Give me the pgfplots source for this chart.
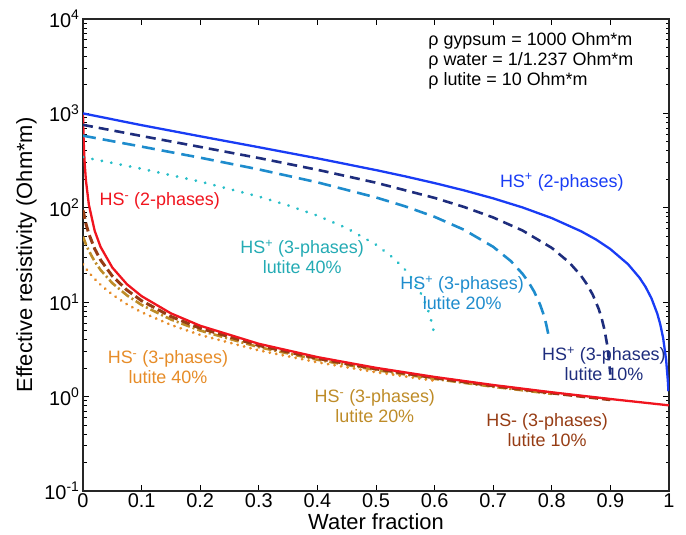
\documentclass[border=0pt]{standalone}
\usepackage{pgfplots}
\pgfplotsset{compat=1.18}
\usepackage{fontspec}
\setmainfont{Liberation Sans}

\definecolor{hsblue}{RGB}{25,60,245}
\definecolor{hsnavy}{RGB}{30,45,125}
\definecolor{hsmid}{RGB}{30,140,205}
\definecolor{hscyan}{RGB}{40,190,200}
\definecolor{hsred}{RGB}{240,20,30}
\definecolor{hsbrown}{RGB}{150,60,20}
\definecolor{hsgold}{RGB}{190,140,40}
\definecolor{hsorange}{RGB}{230,140,40}

\begin{document}
\begin{tikzpicture}
\begin{axis}[
    scale only axis,
    width=586bp, height=472bp,
    xmin=0, xmax=1,
    ymode=log, ymin=0.1, ymax=10000,
    xtick={0,0.1,0.2,0.3,0.4,0.5,0.6,0.7,0.8,0.9,1},
    xticklabels={0,0.1,0.2,0.3,0.4,0.5,0.6,0.7,0.8,0.9,1},
    ytick={0.1,1,10,100,1000,10000},
    yticklabels={10\textsuperscript{-1},10\textsuperscript{0},10\textsuperscript{1},10\textsuperscript{2},10\textsuperscript{3},10\textsuperscript{4}},
    minor ytick={0.2,0.3,0.4,0.5,0.6,0.7,0.8,0.9,2,3,4,5,6,7,8,9,20,30,40,50,60,70,80,90,200,300,400,500,600,700,800,900,2000,3000,4000,5000,6000,7000,8000,9000},
    major tick length=6bp, minor tick length=3.5bp,
    tick style={black, line width=1bp},
    axis line style={black!85, line width=1.6bp},
    ticklabel style={font=\fontsize{20}{20}\selectfont},
    xticklabel style={yshift=1bp},
    label style={font=\fontsize{22}{22}\selectfont},
    xlabel={Water fraction},
    ylabel={Effective resistivity (Ohm*m)},
    xlabel style={yshift=1bp},
    ylabel style={yshift=1bp},
    clip=true,
]

% HS- 3 phases (lower resistivity bound)
\addplot[color=hsorange, line width=3bp, line cap=round, dash pattern=on 0.1bp off 6.5bp] coordinates {
    (0,25.2)(0.005,22.8)(0.01,20.7)(0.02,17.6)(0.03,15.3)(0.05,12.06)(0.075,9.51)(0.1,7.83)(0.15,5.75)(0.2,4.503)(0.3,3.090)(0.4,2.309)(0.5,1.814)(0.6,1.471)
};
\addplot[color=hsgold, line width=2.6bp, dash pattern=on 9bp off 3bp on 2bp off 3bp] coordinates {
    (0,49.5)(0.005,41.0)(0.01,35.0)(0.02,27.0)(0.03,21.95)(0.05,15.93)(0.075,11.82)(0.1,9.36)(0.15,6.56)(0.2,5.008)(0.3,3.339)(0.4,2.457)(0.5,1.911)(0.6,1.540)(0.7,1.272)(0.8,1.069)
};
\addplot[color=hsbrown, line width=3bp, dash pattern=on 9bp off 4bp] coordinates {
    (0,94.7)(0.005,67.9)(0.01,52.9)(0.02,36.7)(0.03,28.0)(0.05,18.94)(0.075,13.43)(0.1,10.36)(0.15,7.06)(0.2,5.30)(0.3,3.478)(0.4,2.537)(0.5,1.964)(0.6,1.577)(0.7,1.299)(0.8,1.0896)(0.9,0.926)
};

% HS- 2 phases
\addplot[color=hsred, line width=2.3bp] coordinates {
    (0,1000)(0.001,548)(0.002,377)(0.003,287.7)(0.005,195)(0.01,107.9)(0.02,56.9)(0.03,38.5)(0.05,23.3)(0.075,15.5)(0.1,11.59)(0.15,7.62)(0.2,5.63)(0.3,3.626)(0.4,2.622)(0.5,2.018)(0.6,1.615)(0.7,1.327)(0.8,1.111)(0.9,0.943)(1,0.808)
};

% HS+ 3 phases (upper resistivity bound)
\addplot[color=hscyan, line width=3bp, line cap=round, dash pattern=on 0.1bp off 9.5bp] coordinates {
    (0,344.4)(0.1,259.1)(0.2,189.5)(0.3,131.6)(0.35,106.1)(0.4,82.6)(0.45,60.9)(0.5,40.7)(0.53,29.3)(0.55,21.96)(0.56,18.36)(0.57,14.81)(0.58,11.31)(0.59,7.85)(0.595,6.14)(0.6,4.44)
};
\addplot[color=hsmid, line width=2.6bp, dash pattern=on 13bp off 7bp] coordinates {
    (0,580.5)(0.1,444.7)(0.2,339.3)(0.3,255.0)(0.4,186.1)(0.5,128.7)(0.55,103.5)(0.6,80.2)(0.65,58.6)(0.7,38.6)(0.73,27.3)(0.75,20.0)(0.76,16.43)(0.77,12.91)(0.78,9.43)(0.785,7.71)(0.79,6.00)(0.795,4.31)
};
\addplot[color=hsnavy, line width=2.6bp, dash pattern=on 10bp off 6bp] coordinates {
    (0,756.2)(0.1,576.3)(0.2,441.5)(0.3,336.7)(0.4,252.9)(0.5,184.4)(0.6,127.3)(0.65,102.2)(0.7,79.0)(0.75,57.5)(0.8,37.6)(0.83,26.3)(0.85,19.03)(0.86,15.47)(0.87,11.96)(0.88,8.50)(0.885,6.79)(0.89,5.08)(0.895,3.39)(0.9,1.71)
};

% HS+ 2 phases
\addplot[color=hsblue, line width=2.3bp] coordinates {
    (0,1000)(0.1,750.5)(0.2,572.2)(0.3,438.3)(0.4,334.2)(0.5,250.9)(0.55,215.2)(0.6,182.7)(0.65,153.1)(0.7,125.9)(0.75,100.9)(0.8,77.8)(0.85,56.4)(0.875,46.3)(0.9,36.5)(0.93,25.3)(0.95,18.06)(0.96,14.52)(0.97,11.02)(0.98,7.57)(0.985,5.86)(0.99,4.17)(0.995,2.48)(0.998,1.476)(0.999,1.14)
};

\begin{scope}[every node/.style={font=\fontsize{18}{20}\selectfont, align=center, inner sep=0pt}]
\node[anchor=north west, align=left, text=black] at (rel axis cs:0.589,0.972)
    {ρ gypsum = 1000 Ohm*m\\ ρ water = 1/1.237 Ohm*m\\ ρ lutite = 10 Ohm*m};
\node[text=hsblue] at (rel axis cs:0.817,0.654) {HS\textsuperscript{+} (2-phases)};
\node[text=hsred] at (rel axis cs:0.131,0.614) {HS\textsuperscript{-} (2-phases)};
\node[text=hscyan!90!black] at (rel axis cs:0.374,0.496) {HS\textsuperscript{+} (3-phases)\\lutite 40\%};
\node[text=hsmid] at (rel axis cs:0.647,0.419) {HS\textsuperscript{+} (3-phases)\\lutite 20\%};
\node[text=hsnavy] at (rel axis cs:0.889,0.269) {HS\textsuperscript{+} (3-phases)\\lutite 10\%};
\node[text=hsorange] at (rel axis cs:0.145,0.263) {HS\textsuperscript{-} (3-phases)\\lutite 40\%};
\node[text=hsgold] at (rel axis cs:0.498,0.180) {HS\textsuperscript{-} (3-phases)\\lutite 20\%};
\node[text=hsbrown] at (rel axis cs:0.792,0.129) {HS- (3-phases)\\lutite 10\%};
\end{scope}

\end{axis}
\pgfresetboundingbox
\path (current axis.south west) ++(-83bp,-44bp) rectangle ++(686bp,535bp);
\end{tikzpicture}
\end{document}
